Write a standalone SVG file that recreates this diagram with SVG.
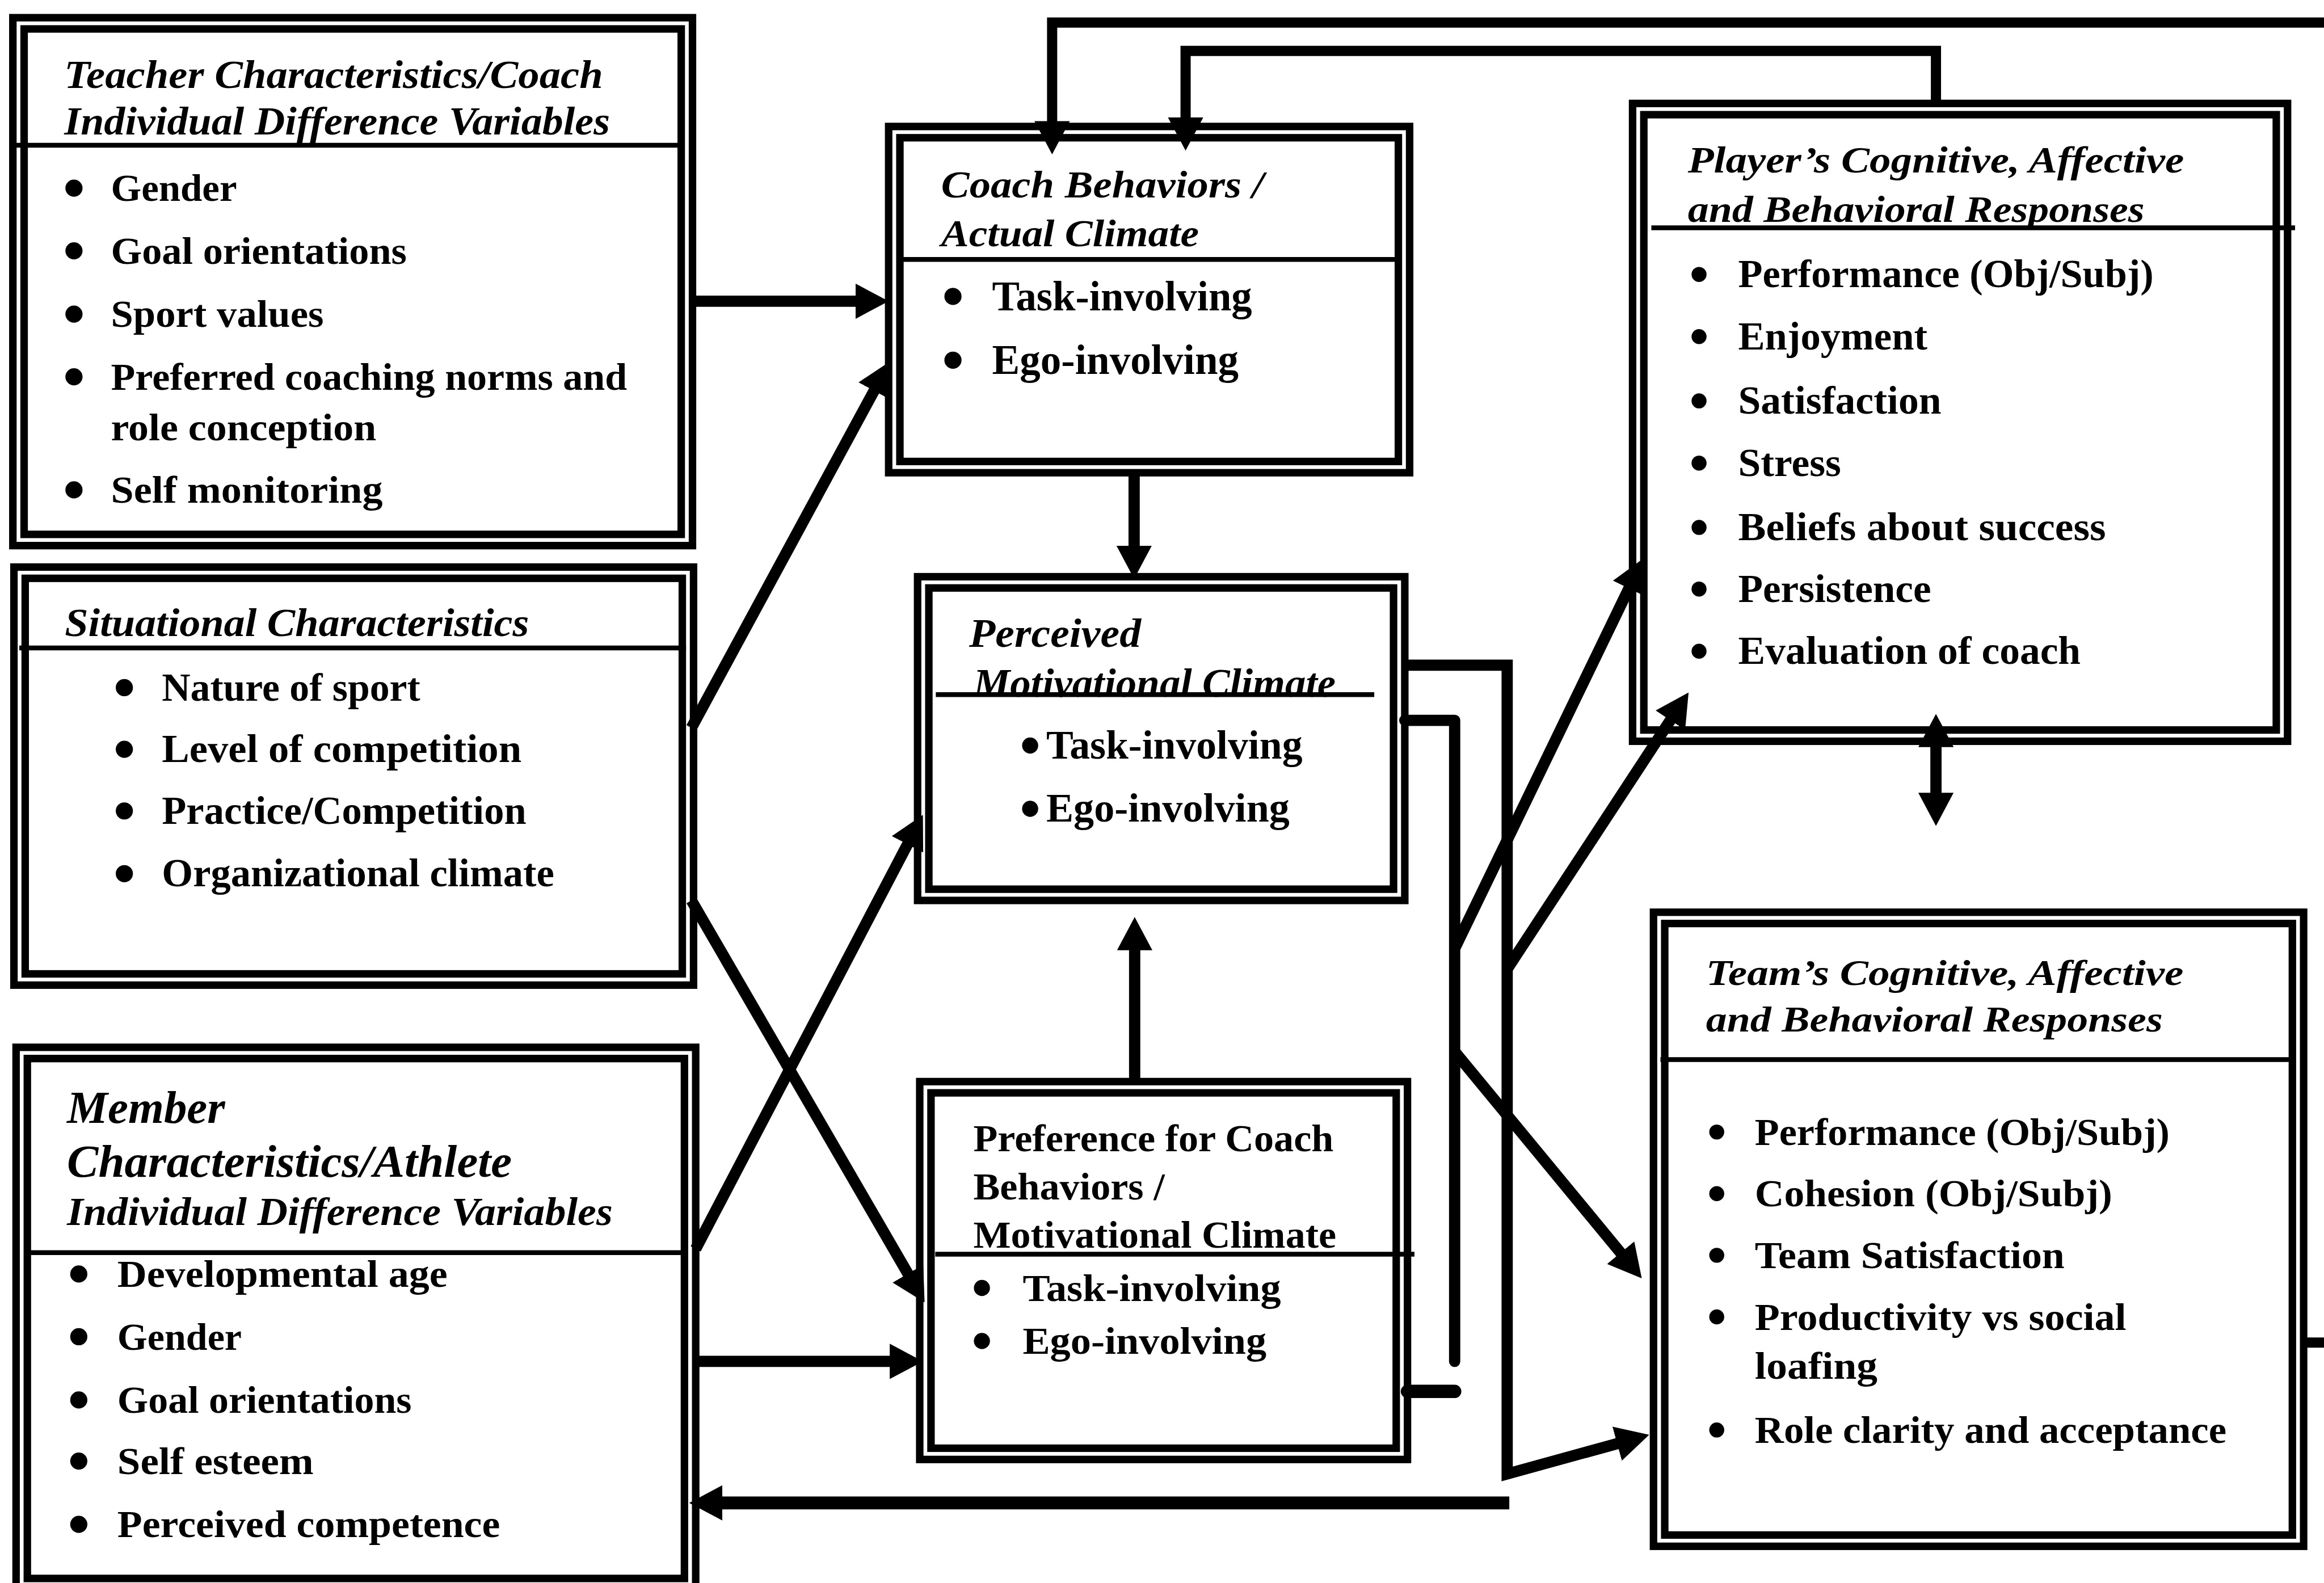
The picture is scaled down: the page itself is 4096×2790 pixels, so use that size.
<svg xmlns="http://www.w3.org/2000/svg" width="4096" height="2790" viewBox="0 0 4096 2790">
  <style>
    .frame { fill: none; stroke: #000; stroke-width: 14; }
    .sep { stroke: #000; stroke-width: 9; fill: none; }
    .t { font-family: "Liberation Serif", "Times New Roman", serif; font-weight: bold; fill: #000; }
    .it { font-style: italic; }
    .dot { fill: #000; }
    .conn { fill: none; stroke: #000; stroke-width: 21; stroke-linejoin: miter; }
    .arrow { marker-end: url(#head); }
  </style>
  <defs>
    <marker id="head" markerUnits="userSpaceOnUse" viewBox="0 0 62 66" markerWidth="62" markerHeight="66" refX="32" refY="33" orient="auto-start-reverse">
      <path d="M0,0 L62,33 L0,66 Z" fill="#000"/>
    </marker>
  </defs>
  <rect x="0" y="0" width="4096" height="2790" fill="#fff"/>
  <g transform="scale(0.94465)">

    <!-- connectors -->
    <g id="connectors">
      <path class="conn arrow" d="M1292,562 H1628"/>
      <path class="conn arrow" d="M1290,1358 L1646,701"/>
      <path class="conn arrow" d="M1290,1680 L1710,2404"/>
      <path class="conn arrow" d="M1298,2330 L1708,1547"/>
      <path class="conn arrow" d="M1298,2540 H1692"/>
      <path class="conn arrow" d="M2116,882 V1050"/>
      <path class="conn arrow" d="M2117,2018 V1741"/>
      <!-- feedback loops across the top -->
      <path class="conn arrow" style="stroke-width:19" d="M4336,42 H1963 V258"/>
      <path class="conn arrow" style="stroke-width:19" d="M3612,193 V95 H2212 V251"/>
      <path class="conn" style="stroke-width:19" d="M4298,2505 H4336"/>
      <!-- player / team two-way link -->
      <path class="conn" style="marker-start:url(#head);marker-end:url(#head)" d="M3612,1362 V1511"/>
      <!-- outputs of perceived climate -->
      <path class="conn arrow" d="M2621,1241 H2812 V2750 L3048,2685"/>
      <path class="conn" style="stroke-linejoin:round;stroke-linecap:round" d="M2621,1344 H2714 V2540"/>
      <path class="conn arrow" d="M2714,1770 L3053,1069"/>
      <path class="conn arrow" d="M2812,1808 L3134,1317"/>
      <path class="conn arrow" d="M2714,1962 L3044,2362"/>
      <path class="conn" style="stroke-linecap:round;stroke-width:25" d="M2626,2596 H2714"/>
      <path class="conn arrow" style="stroke-width:24" d="M2816,2804 H1316"/>
    </g>

    <!-- coach individual difference variables -->
    <g id="teacher">
      <rect class="frame" x="24" y="33" width="1268" height="985"/>
      <rect class="frame" x="45" y="54" width="1226" height="943"/>
      <line class="sep" x1="24" y1="271" x2="1271" y2="271"/>
      <text class="t it" font-size="74" x="120" y="164" textLength="1005" lengthAdjust="spacingAndGlyphs">Teacher Characteristics/Coach</text>
      <text class="t it" font-size="74" x="120" y="251" textLength="1018" lengthAdjust="spacingAndGlyphs">Individual Difference Variables</text>
      <circle class="dot" cx="138" cy="351" r="16"/>
      <circle class="dot" cx="138" cy="468" r="16"/>
      <circle class="dot" cx="138" cy="586" r="16"/>
      <circle class="dot" cx="138" cy="703" r="16"/>
      <circle class="dot" cx="138" cy="914" r="16"/>
      <text class="t" font-size="72" x="207" y="375" textLength="235" lengthAdjust="spacingAndGlyphs">Gender</text>
      <text class="t" font-size="72" x="207" y="492" textLength="552" lengthAdjust="spacingAndGlyphs">Goal orientations</text>
      <text class="t" font-size="72" x="207" y="610" textLength="397" lengthAdjust="spacingAndGlyphs">Sport values</text>
      <text class="t" font-size="72" x="207" y="727" textLength="963" lengthAdjust="spacingAndGlyphs">Preferred coaching norms and</text>
      <text class="t" font-size="72" x="207" y="821" textLength="495" lengthAdjust="spacingAndGlyphs">role conception</text>
      <text class="t" font-size="72" x="207" y="938" textLength="507" lengthAdjust="spacingAndGlyphs">Self monitoring</text>
    </g>

    <!-- situational characteristics -->
    <g id="situational">
      <rect class="frame" x="26" y="1058" width="1268" height="780"/>
      <rect class="frame" x="47" y="1079" width="1226" height="738"/>
      <line class="sep" x1="36" y1="1209" x2="1280" y2="1209"/>
      <text class="t it" font-size="74" x="121" y="1187" textLength="866" lengthAdjust="spacingAndGlyphs">Situational Characteristics</text>
      <circle class="dot" cx="232" cy="1283" r="16"/>
      <circle class="dot" cx="232" cy="1398" r="16"/>
      <circle class="dot" cx="232" cy="1513" r="16"/>
      <circle class="dot" cx="232" cy="1630" r="16"/>
      <text class="t" font-size="74" x="302" y="1307" textLength="482" lengthAdjust="spacingAndGlyphs">Nature of sport</text>
      <text class="t" font-size="74" x="302" y="1422" textLength="671" lengthAdjust="spacingAndGlyphs">Level of competition</text>
      <text class="t" font-size="74" x="302" y="1537" textLength="680" lengthAdjust="spacingAndGlyphs">Practice/Competition</text>
      <text class="t" font-size="74" x="302" y="1654" textLength="732" lengthAdjust="spacingAndGlyphs">Organizational climate</text>
    </g>

    <!-- athlete individual difference variables -->
    <g id="member">
      <rect class="frame" x="30" y="1954" width="1268" height="1012"/>
      <rect class="frame" x="51" y="1975" width="1226" height="970"/>
      <line class="sep" x1="45" y1="2337" x2="1277" y2="2337"/>
      <text class="t it" font-size="84" x="125" y="2095" textLength="295" lengthAdjust="spacingAndGlyphs">Member</text>
      <text class="t it" font-size="84" x="125" y="2196" textLength="830" lengthAdjust="spacingAndGlyphs">Characteristics/Athlete</text>
      <text class="t it" font-size="74" x="125" y="2286" textLength="1018" lengthAdjust="spacingAndGlyphs">Individual Difference Variables</text>
      <circle class="dot" cx="147" cy="2377" r="16"/>
      <circle class="dot" cx="147" cy="2494" r="16"/>
      <circle class="dot" cx="147" cy="2612" r="16"/>
      <circle class="dot" cx="147" cy="2726" r="16"/>
      <circle class="dot" cx="147" cy="2844" r="16"/>
      <text class="t" font-size="72" x="219" y="2401" textLength="616" lengthAdjust="spacingAndGlyphs">Developmental age</text>
      <text class="t" font-size="72" x="219" y="2518" textLength="232" lengthAdjust="spacingAndGlyphs">Gender</text>
      <text class="t" font-size="72" x="219" y="2636" textLength="549" lengthAdjust="spacingAndGlyphs">Goal orientations</text>
      <text class="t" font-size="72" x="219" y="2750" textLength="366" lengthAdjust="spacingAndGlyphs">Self esteem</text>
      <text class="t" font-size="72" x="219" y="2868" textLength="714" lengthAdjust="spacingAndGlyphs">Perceived competence</text>
    </g>

    <!-- actual climate -->
    <g id="coach">
      <rect class="frame" x="1658" y="236" width="972" height="646"/>
      <rect class="frame" x="1679" y="257" width="930" height="604"/>
      <line class="sep" x1="1679" y1="484" x2="2609" y2="484"/>
      <text class="t it" font-size="72" x="1756" y="368" textLength="602" lengthAdjust="spacingAndGlyphs">Coach Behaviors /</text>
      <text class="t it" font-size="72" x="1756" y="459" textLength="481" lengthAdjust="spacingAndGlyphs">Actual Climate</text>
      <circle class="dot" cx="1778" cy="553" r="16"/>
      <circle class="dot" cx="1778" cy="672" r="16"/>
      <text class="t" font-size="78" x="1851" y="579" textLength="485" lengthAdjust="spacingAndGlyphs">Task-involving</text>
      <text class="t" font-size="78" x="1851" y="698" textLength="460" lengthAdjust="spacingAndGlyphs">Ego-involving</text>
    </g>

    <!-- perceived climate -->
    <g id="perceived">
      <rect class="frame" x="1712" y="1076" width="909" height="604"/>
      <rect class="frame" x="1733" y="1097" width="867" height="562"/>
      <text class="t it" font-size="76" x="1808" y="1207" textLength="321" lengthAdjust="spacingAndGlyphs">Perceived</text>
      <text class="t it" font-size="76" x="1816" y="1300" textLength="676" lengthAdjust="spacingAndGlyphs">Motivational Climate</text>
      <line class="sep" x1="1746" y1="1296" x2="2564" y2="1296"/>
      <circle class="dot" cx="1922" cy="1391" r="15"/>
      <circle class="dot" cx="1922" cy="1509" r="15"/>
      <text class="t" font-size="76" x="1952" y="1415" textLength="478" lengthAdjust="spacingAndGlyphs">Task-involving</text>
      <text class="t" font-size="76" x="1952" y="1533" textLength="454" lengthAdjust="spacingAndGlyphs">Ego-involving</text>
    </g>

    <!-- preferred climate -->
    <g id="preference">
      <rect class="frame" x="1716" y="2018" width="910" height="705"/>
      <rect class="frame" x="1737" y="2039" width="868" height="663"/>
      <line class="sep" x1="1745" y1="2340" x2="2639" y2="2340"/>
      <text class="t" font-size="72" x="1816" y="2148" textLength="672" lengthAdjust="spacingAndGlyphs">Preference for Coach</text>
      <text class="t" font-size="72" x="1816" y="2238" textLength="357" lengthAdjust="spacingAndGlyphs">Behaviors /</text>
      <text class="t" font-size="72" x="1816" y="2328" textLength="677" lengthAdjust="spacingAndGlyphs">Motivational Climate</text>
      <circle class="dot" cx="1832" cy="2403" r="15"/>
      <circle class="dot" cx="1832" cy="2502" r="15"/>
      <text class="t" font-size="72" x="1908" y="2427" textLength="482" lengthAdjust="spacingAndGlyphs">Task-involving</text>
      <text class="t" font-size="72" x="1908" y="2526" textLength="455" lengthAdjust="spacingAndGlyphs">Ego-involving</text>
    </g>

    <!-- individual outcomes -->
    <g id="player">
      <rect class="frame" x="3046" y="193" width="1222" height="1190"/>
      <rect class="frame" x="3067" y="214" width="1180" height="1148"/>
      <text class="t it" font-size="70" x="3149" y="322" textLength="926" lengthAdjust="spacingAndGlyphs">Player’s Cognitive, Affective</text>
      <text class="t it" font-size="70" x="3149" y="414" textLength="852" lengthAdjust="spacingAndGlyphs">and Behavioral Responses</text>
      <line class="sep" x1="3081" y1="425" x2="4282" y2="425"/>
      <circle class="dot" cx="3170" cy="512" r="14"/>
      <circle class="dot" cx="3170" cy="628" r="14"/>
      <circle class="dot" cx="3170" cy="748" r="14"/>
      <circle class="dot" cx="3170" cy="864" r="14"/>
      <circle class="dot" cx="3170" cy="984" r="14"/>
      <circle class="dot" cx="3170" cy="1099" r="14"/>
      <circle class="dot" cx="3170" cy="1215" r="14"/>
      <text class="t" font-size="74" x="3243" y="536" textLength="775" lengthAdjust="spacingAndGlyphs">Performance (Obj/Subj)</text>
      <text class="t" font-size="74" x="3243" y="652" textLength="353" lengthAdjust="spacingAndGlyphs">Enjoyment</text>
      <text class="t" font-size="74" x="3243" y="772" textLength="379" lengthAdjust="spacingAndGlyphs">Satisfaction</text>
      <text class="t" font-size="74" x="3243" y="888" textLength="192" lengthAdjust="spacingAndGlyphs">Stress</text>
      <text class="t" font-size="74" x="3243" y="1008" textLength="686" lengthAdjust="spacingAndGlyphs">Beliefs about success</text>
      <text class="t" font-size="74" x="3243" y="1123" textLength="360" lengthAdjust="spacingAndGlyphs">Persistence</text>
      <text class="t" font-size="74" x="3243" y="1239" textLength="639" lengthAdjust="spacingAndGlyphs">Evaluation of coach</text>
    </g>

    <!-- team outcomes -->
    <g id="team">
      <rect class="frame" x="3085" y="1702" width="1213" height="1183"/>
      <rect class="frame" x="3106" y="1723" width="1171" height="1141"/>
      <line class="sep" x1="3098" y1="1977" x2="4277" y2="1977"/>
      <text class="t it" font-size="68" x="3183" y="1838" textLength="891" lengthAdjust="spacingAndGlyphs">Team’s Cognitive, Affective</text>
      <text class="t it" font-size="68" x="3183" y="1925" textLength="852" lengthAdjust="spacingAndGlyphs">and Behavioral Responses</text>
      <circle class="dot" cx="3203" cy="2112" r="14"/>
      <circle class="dot" cx="3203" cy="2227" r="14"/>
      <circle class="dot" cx="3203" cy="2342" r="14"/>
      <circle class="dot" cx="3203" cy="2457" r="14"/>
      <circle class="dot" cx="3203" cy="2668" r="14"/>
      <text class="t" font-size="72" x="3274" y="2136" textLength="774" lengthAdjust="spacingAndGlyphs">Performance (Obj/Subj)</text>
      <text class="t" font-size="72" x="3274" y="2251" textLength="667" lengthAdjust="spacingAndGlyphs">Cohesion (Obj/Subj)</text>
      <text class="t" font-size="72" x="3274" y="2366" textLength="578" lengthAdjust="spacingAndGlyphs">Team Satisfaction</text>
      <text class="t" font-size="72" x="3274" y="2481" textLength="693" lengthAdjust="spacingAndGlyphs">Productivity vs social</text>
      <text class="t" font-size="72" x="3274" y="2572" textLength="229" lengthAdjust="spacingAndGlyphs">loafing</text>
      <text class="t" font-size="72" x="3274" y="2692" textLength="880" lengthAdjust="spacingAndGlyphs">Role clarity and acceptance</text>
    </g>
  </g>
</svg>
